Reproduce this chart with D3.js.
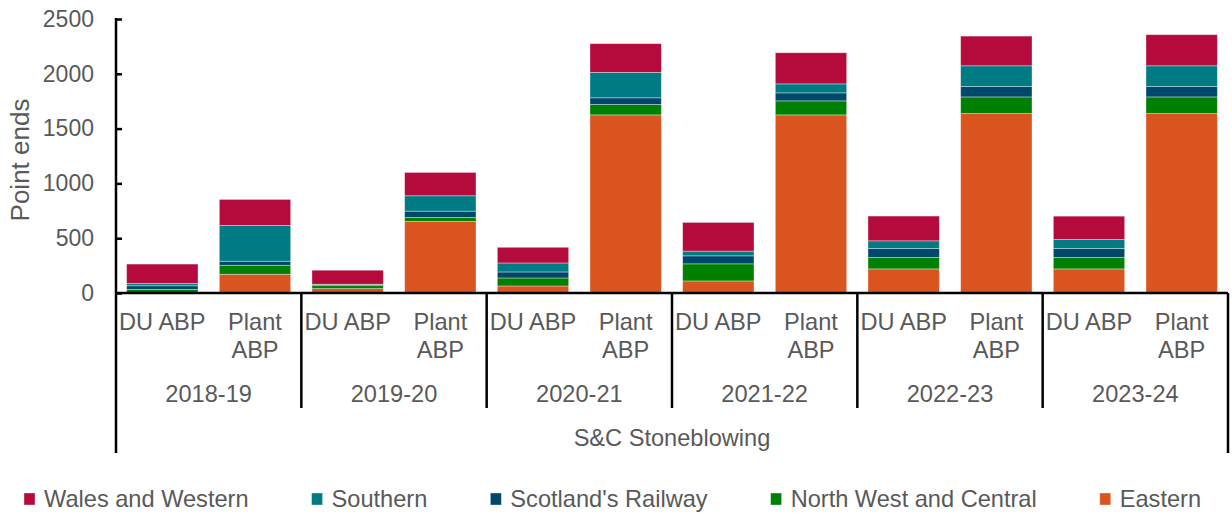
<!DOCTYPE html>
<html>
<head>
<meta charset="utf-8">
<script src="https://cdn.jsdelivr.net/npm/d3@7"></script>
<style>
  html, body { margin: 0; padding: 0; background: #fff; }
  svg { display: block; font-family: "Liberation Sans", Arial, sans-serif; }
</style>
</head>
<body>
<svg id="chart" width="1232" height="514"></svg>
<script>
// ---------- DATA ----------
const group = "S&C Stoneblowing";
const years = ["2018-19", "2019-20", "2020-21", "2021-22", "2022-23", "2023-24"];
const types = ["DU ABP", "Plant ABP"];
const seriesNames = ["Wales and Western", "Southern", "Scotland's Railway", "North West and Central", "Eastern"];
// values per bar, order: 2018-19 DU, 2018-19 Plant, 2019-20 DU, ...
const eastern   = [2, 171, 40, 652, 64, 1625, 110, 1625, 220, 1637, 220, 1637];
const northWest = [30, 82, 27, 37, 73, 95, 156, 128, 104, 152, 104, 152];
const scotland  = [34, 37, 9, 58, 55, 61, 73, 73, 82, 95, 82, 95];
const southern  = [21, 326, 4, 140, 82, 232, 43, 82, 70, 189, 82, 189];
const wales     = [177, 238, 128, 213, 143, 262, 262, 284, 226, 271, 213, 284];
const yTicks = [0, 500, 1000, 1500, 2000, 2500];
const yLabel = "Point ends";
const colors = {
  "Wales and Western": "#B40A3C",
  "Southern": "#007A83",
  "Scotland's Railway": "#00486B",
  "North West and Central": "#008000",
  "Eastern": "#D9541E"
};

// ---------- BUILD ----------
(function () {
const seriesValues = {
  "Wales and Western": wales,
  "Southern": southern,
  "Scotland's Railway": scotland,
  "North West and Central": northWest,
  "Eastern": eastern
};
const rows = [];
years.forEach((yr, i) => types.forEach((t, j) => {
  const idx = i * types.length + j;
  const r = { key: yr + "|" + t, year: yr, type: t };
  seriesNames.forEach(s => r[s] = seriesValues[s][idx]);
  rows.push(r);
}));
const stackOrder = seriesNames.slice().reverse(); // Eastern at bottom
const stacked = d3.stack().keys(stackOrder)(rows);

const svg = d3.select("#chart");
const mLeft = 116, mRight = 1228, mTop = 19, mBottom = 293;
const textColor = "#595959";
const fs = 23;
const lfs = 23.6;

const x = d3.scaleBand().domain(rows.map(r => r.key)).range([mLeft, mRight]).paddingInner(0.23).paddingOuter(0.115);
const y = d3.scaleLinear().domain([0, 2500]).range([mBottom, mTop]);

// bars
svg.append("g").selectAll("g").data(stacked).join("g")
  .attr("fill", d => colors[d.key])
  .selectAll("rect").data(d => d).join("rect")
  .attr("x", d => x(d.data.key))
  .attr("width", x.bandwidth())
  .attr("y", d => y(d[1]))
  .attr("height", d => Math.max(0, y(d[0]) - y(d[1])))
  .attr("stroke", "#ffffff").attr("stroke-opacity", 0.45).attr("stroke-width", 0.8);

// y axis
const yAxis = svg.append("g").attr("transform", `translate(${mLeft},0)`)
  .call(d3.axisLeft(y).tickValues(yTicks).tickSize(-6).tickPadding(22).tickFormat(d3.format("d")));
yAxis.select(".domain").remove();
yAxis.selectAll(".tick line").attr("stroke", "#000").attr("stroke-width", 2.5);
yAxis.selectAll(".tick text").attr("fill", textColor).style("font-size", fs + "px")
  .style("font-family", "'Liberation Sans', Arial, sans-serif");
svg.append("line").attr("x1", mLeft).attr("x2", mLeft).attr("y1", mTop - 1).attr("y2", 453)
  .attr("stroke", "#000").attr("stroke-width", 2.5);

svg.append("text").attr("transform", `translate(29,${(mTop + mBottom) / 2 + 4}) rotate(-90)`)
  .attr("text-anchor", "middle").attr("fill", textColor).style("font-size", "26px").text(yLabel);

// x axis
svg.append("line").attr("x1", mLeft).attr("x2", mRight).attr("y1", mBottom).attr("y2", mBottom)
  .attr("stroke", "#000").attr("stroke-width", 2.5);
svg.append("line").attr("x1", mRight).attr("x2", mRight).attr("y1", mBottom).attr("y2", 453)
  .attr("stroke", "#000").attr("stroke-width", 2.5);
const step = x.step();
years.forEach((yr, i) => {
  if (i > 0) {
    const xs = mLeft + i * types.length * step;
    svg.append("line").attr("x1", xs).attr("x2", xs).attr("y1", mBottom).attr("y2", 408)
      .attr("stroke", "#000").attr("stroke-width", 2.5);
  }
  const cx = mLeft + (i + 0.5) * types.length * step;
  svg.append("text").attr("x", cx).attr("y", 402).attr("text-anchor", "middle")
    .attr("fill", textColor).style("font-size", lfs + "px").text(yr);
});

// type labels with wrapping
rows.forEach(r => {
  const cx = x(r.key) + x.bandwidth() / 2;
  const t = svg.append("text").attr("x", cx).attr("y", 330).attr("text-anchor", "middle")
    .attr("fill", textColor).style("font-size", lfs + "px").text(r.type);
  if (t.node().getComputedTextLength() > step - 2) {
    const words = r.type.split(" ");
    t.text(null);
    words.forEach((w, k) => t.append("tspan").attr("x", cx).attr("y", 330 + k * 28).text(w));
  }
});

svg.append("text").attr("x", (mLeft + mRight) / 2).attr("y", 446).attr("text-anchor", "middle")
  .attr("fill", textColor).style("font-size", lfs + "px").text(group);

// legend
let lx = 24;
seriesNames.forEach(s => {
  svg.append("rect").attr("x", lx).attr("y", 493).attr("width", 11).attr("height", 12)
    .attr("fill", colors[s]).attr("stroke", "#fff").attr("stroke-opacity", 0.45).attr("stroke-width", 0.8);
  const t = svg.append("text").attr("x", lx + 20).attr("y", 507).attr("fill", textColor)
    .style("font-size", lfs + "px").text(s);
  lx += 20 + t.node().getComputedTextLength() + 63;
});
})();
</script>
</body>
</html>
